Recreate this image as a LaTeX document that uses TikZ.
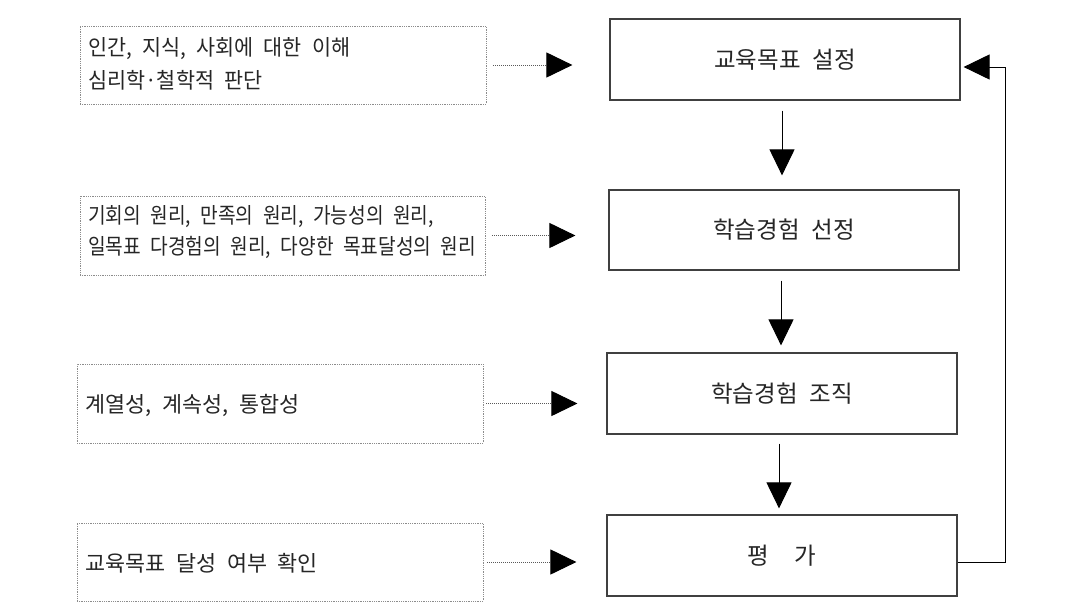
\documentclass[tikz,border=0pt]{standalone}
\usepackage{fontspec}
\newfontfamily\kr[WordSpace=2.2]{Noto Sans CJK KR}
\newfontfamily\krnarrow[WordSpace=2.2,FakeStretch=0.88]{Noto Sans CJK KR}
\newfontfamily\krmid[WordSpace=2.2,FakeStretch=0.95]{Noto Sans CJK KR}
\usetikzlibrary{arrows.meta}
\begin{document}
\begin{tikzpicture}[x=1pt,y=-1pt,
  stepbox/.style={draw=black!75, line width=1.2pt, minimum width=350pt, minimum height=81pt, inner sep=0pt,
    font=\kr\fontsize{23.5}{28}\selectfont, text=black!85},
  notebox/.style={draw=black!45, line width=0.9pt, dash pattern=on 0.9pt off 0.9pt,
    minimum width=406pt, minimum height=79pt, inner sep=0pt},
  notetext/.style={anchor=west, align=left, inner sep=0pt, font=\kr\fontsize{21.8}{33}\selectfont, text=black!85},
  flow/.style={draw=black, line width=1pt, -{Triangle[length=26pt,width=25pt]}},
  dotflow/.style={draw=black!65, line width=1pt, dash pattern=on 1pt off 1pt,
    -{Triangle[length=26pt,width=25pt,color=black]}}
]
\useasboundingbox (0,0) rectangle (1086,608);
\fill[white] (0,0) rectangle (1086,608);

% main steps
\node[stepbox] (b1) at (785,59.5) {교육목표 설정};
\node[stepbox, minimum height=80pt] (b2) at (784,230) {학습경험 선정};
\node[stepbox] (b3) at (782,393.5) {학습경험 조직};
\node[stepbox] (b4) at (782,555.5) {평\hspace{1.1em}가};

% notes
\node[notebox, minimum height=78pt] (l1) at (283,65) {};
\node[notebox, minimum width=405pt] (l2) at (282.5,235.5) {};
\node[notebox] (l3) at (280,403.5) {};
\node[notebox, minimum height=78pt] (l4) at (280,562) {};

\node[notetext, font=\krmid\fontsize{21.8}{33}\selectfont] (t1) at (88,63.5) {인간, 지식, 사회에 대한 이해\\심리학·철학적 판단};
\node[notetext, font=\krnarrow\fontsize{21.8}{31}\selectfont] (t2) at (88,232.5) {기회의 원리, 만족의 원리, 가능성의 원리,\\일목표 다경험의 원리, 다양한 목표달성의 원리};
\node[notetext] (t3) at (85,405) {계열성, 계속성, 통합성};
\node[notetext] (t4) at (85,563) {교육목표 달성 여부 확인};

% flow arrows
\draw[flow, shorten <=10pt, shorten >=14pt] ([xshift=-3pt]b1.south) -- ([xshift=-3pt]b1.south |- b2.north);
\draw[flow, shorten <=10pt, shorten >=7pt] ([xshift=-3pt]b2.south) -- ([xshift=-3pt]b2.south |- b3.north);
\draw[flow, shorten <=9pt, shorten >=6pt] ([xshift=-3pt]b3.south) -- ([xshift=-3pt]b3.south |- b4.north);

% feedback
\draw[flow, shorten >=3pt] ([yshift=-6.5pt]b4.east) -- ++(48pt,0) |- ([yshift=-7.5pt]b1.east);

% dotted arrows
\draw[dotflow, shorten <=7pt, shorten >=37pt] (l1.east) -- (l1.east -| b1.west);
\draw[dotflow, shorten <=7pt, shorten >=33pt] (l2.east) -- (l2.east -| b2.west);
\draw[dotflow, shorten <=3pt, shorten >=29pt] (l3.east) -- (l3.east -| b3.west);
\draw[dotflow, shorten <=4pt, shorten >=30pt] (l4.east) -- (l4.east -| b4.west);
\end{tikzpicture}
\end{document}
